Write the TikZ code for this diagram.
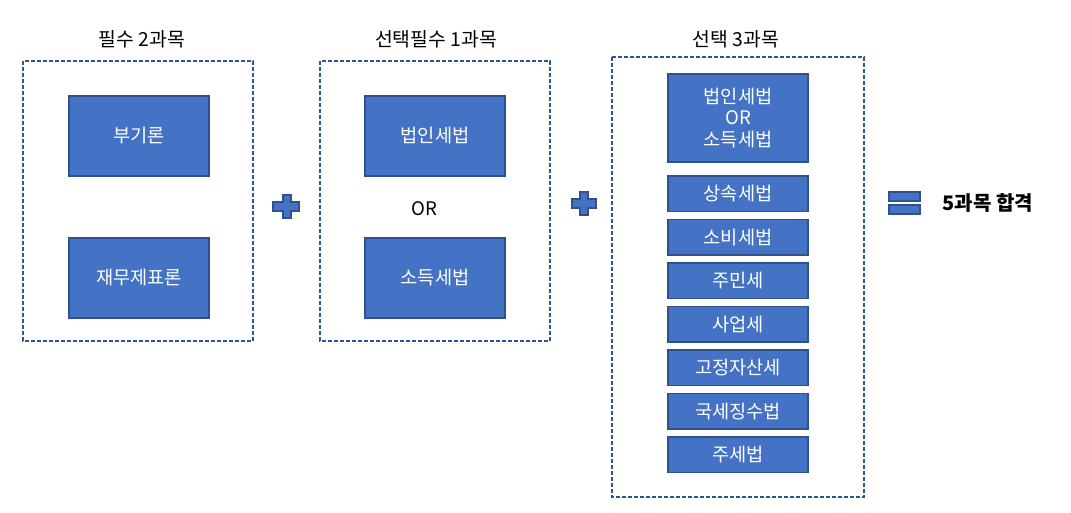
\documentclass[tikz,border=0pt]{standalone}
\usepackage{fontspec}
\setmainfont{Noto Sans CJK KR}
\usetikzlibrary{positioning}
\definecolor{boxblue}{RGB}{68,114,196}
\definecolor{boxedge}{RGB}{47,82,143}
\definecolor{dashedge}{RGB}{47,85,151}

\begin{document}
\begin{tikzpicture}[x=0.75pt, y=-0.75pt,
  every node/.style={font=\fontsize{14}{16}\selectfont},
  ttl/.style={font=\fontsize{14.5}{17}\selectfont},
  grp/.style={draw=dashedge, line width=1.1pt, dash pattern=on 3pt off 1.5pt},
  subj/.style={draw=boxedge, line width=1.1pt, fill=boxblue, text=white,
               minimum width=105pt, minimum height=60pt, align=center},
  subjs/.style={subj, minimum height=26.6pt},
  sym/.style={draw=boxedge, line width=0.8pt, fill=boxblue}]
  \useasboundingbox (0,0) rectangle (1071,513);

  % group 1
  \node[ttl] (t1) at (142,39) {필수 2과목};
  \draw[grp] (23,61) rectangle (253,341);
  \node[subj] (bugi) at (139,136) {부기론};
  \node[subj] (jaemu) at (139,278) {재무제표론};

  % plus
  \draw[sym] (283,195) -- (291,195) -- (291,202) -- (299,202) -- (299,211)
     -- (291,211) -- (291,218) -- (283,218) -- (283,211) -- (273,211)
     -- (273,202) -- (283,202) -- cycle;

  % group 2
  \node[ttl] (t2) at (436,39) {선택필수 1과목};
  \draw[grp] (320,61) rectangle (550,341);
  \node[subj] (bubin) at (435,136) {법인세법};
  \node (or) at (424,209) {OR};
  \node[subj] (sodeuk) at (435,278) {소득세법};

  % plus
  \draw[sym] (580,192) -- (588,192) -- (588,199) -- (596,199) -- (596,208)
     -- (588,208) -- (588,215) -- (580,215) -- (580,208) -- (572,208)
     -- (572,199) -- (580,199) -- cycle;

  % group 3
  \node[ttl] (t3) at (736,39) {선택 3과목};
  \draw[grp] (612,57) rectangle (864,497);
  \node[subj, minimum height=66pt] (either) at (738,118) {법인세법\\OR\\소득세법};
  \foreach \name [count=\i from 0] in {상속세법,소비세법,주민세,사업세,고정자산세,국세징수법,주세법}
    \node[subjs] (opt\i) at (738,193.75+43.5*\i) {\name};

  % equals
  \draw[sym] (889,192) rectangle (920,201);
  \draw[sym] (889,205) rectangle (920,214);
  \node[font=\fontsize{15}{18}\selectfont\bfseries, anchor=west] (pass) at (938,203) {5과목 합격};
\end{tikzpicture}
\end{document}
